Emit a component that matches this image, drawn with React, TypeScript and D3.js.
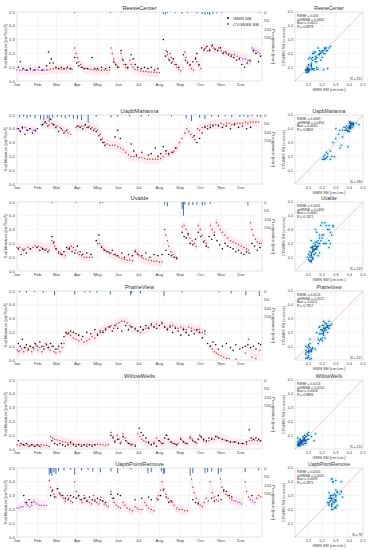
import React from "react";
import * as d3 from "d3";

const months = ["Jan", "Feb", "Mar", "Apr", "May", "Jun", "Jul", "Aug", "Sep", "Oct", "Nov", "Dec"];
const monthStart = [0, 31, 59, 90, 120, 151, 181, 212, 243, 273, 304, 334];
const smTicks = [0, 0.1, 0.2, 0.3, 0.4, 0.5];
const rainTicks = [0, 50, 100, 150];
const scatterTicks = [0.1, 0.2, 0.3, 0.4, 0.5];

const stationNames = ["ReeseCenter", "UapbMarianna", "Uvalde", "PrairieView", "WillowWells", "UapbPointRemove"];

// [day of year, SM]
const reeseCyg = [[0,0.08],[4,0.078],[8,0.08],[12,0.079],[16,0.077],[20,0.08],[24,0.078],[28,0.08],[32,0.079],[36,0.078],[40,0.08],[44,0.08],[46,0.082],[50,0.085],[54,0.088],[58,0.09],[62,0.088],[66,0.086],[70,0.085],[74,0.088],[78,0.087],[82,0.086],[86,0.24],[88,0.2],[90,0.17],[92,0.14],[95,0.12],[98,0.1],[102,0.09],[106,0.085],[110,0.085],[114,0.082],[118,0.08],[122,0.08],[126,0.08],[130,0.078],[134,0.078],[138,0.08],[140,0.24],[142,0.2],[144,0.16],[146,0.13],[149,0.11],[152,0.1],[155,0.2],[157,0.16],[159,0.12],[162,0.1],[165,0.09],[168,0.15],[170,0.12],[173,0.1],[176,0.085],[180,0.08],[184,0.072],[188,0.07],[192,0.068],[196,0.066],[200,0.065],[204,0.064],[208,0.063],[212,0.062],[222,0.22],[224,0.19],[226,0.16],[228,0.2],[230,0.17],[232,0.14],[235,0.12],[238,0.1],[241,0.085],[244,0.075],[250,0.21],[252,0.17],[254,0.14],[257,0.11],[260,0.09],[263,0.08],[266,0.17],[268,0.14],[271,0.11],[274,0.09],[278,0.22],[281,0.24],[284,0.22],[287,0.23],[290,0.25],[293,0.24],[296,0.23],[300,0.24],[304,0.22],[308,0.21],[312,0.2],[316,0.2],[320,0.19],[324,0.19],[328,0.18],[332,0.17],[336,0.16],[340,0.16],[344,0.15],[348,0.14],[350,0.24],[353,0.23],[356,0.22],[359,0.21],[362,0.2]];
const reeseIsmn = [[2,0.1],[5,0.14],[9,0.09],[14,0.08],[20,0.09],[26,0.08],[33,0.1],[38,0.08],[44,0.11],[47,0.21],[49,0.13],[51,0.16],[54,0.13],[58,0.1],[62,0.09],[66,0.1],[70,0.09],[75,0.1],[80,0.09],[86,0.17],[89,0.13],[92,0.11],[96,0.1],[100,0.09],[105,0.09],[112,0.17],[116,0.09],[120,0.09],[126,0.1],[132,0.09],[138,0.1],[144,0.14],[147,0.12],[150,0.1],[155,0.22],[158,0.15],[162,0.12],[165,0.1],[170,0.19],[173,0.16],[176,0.12],[180,0.1],[185,0.09],[190,0.1],[195,0.09],[200,0.1],[205,0.08],[210,0.09],[218,0.3],[221,0.18],[224,0.21],[227,0.15],[230,0.13],[233,0.16],[237,0.12],[241,0.1],[248,0.19],[251,0.15],[254,0.13],[258,0.12],[262,0.14],[266,0.16],[268,0.2],[271,0.12],[275,0.24],[279,0.23],[283,0.25],[287,0.22],[291,0.26],[295,0.23],[299,0.22],[303,0.24],[307,0.2],[311,0.21],[315,0.19],[319,0.18],[323,0.17],[327,0.15],[331,0.16],[335,0.12],[339,0.1],[343,0.13],[347,0.15],[352,0.22],[356,0.2],[360,0.14],[363,0.18]];
const reeseRain = [[86,8],[139,6],[155,4],[218,12],[221,15],[224,6],[236,5],[246,10],[254,6],[268,8],[276,12],[280,16],[284,10],[287,18],[292,10],[298,8],[305,6],[362,4]];
const reesePurple = [[0, 45], [330, 366]];

const mariCyg = [[0,0.4],[4,0.39],[8,0.4],[12,0.41],[16,0.39],[20,0.4],[24,0.39],[28,0.38],[36,0.43],[40,0.44],[44,0.44],[48,0.43],[52,0.44],[56,0.43],[60,0.42],[64,0.41],[68,0.39],[72,0.38],[76,0.37],[80,0.36],[88,0.41],[92,0.42],[96,0.42],[100,0.42],[104,0.41],[108,0.42],[112,0.41],[116,0.4],[120,0.39],[124,0.36],[127,0.33],[130,0.3],[134,0.29],[138,0.28],[142,0.28],[146,0.28],[150,0.27],[154,0.26],[158,0.25],[162,0.23],[166,0.21],[170,0.2],[174,0.2],[178,0.2],[182,0.19],[186,0.19],[190,0.185],[194,0.18],[198,0.18],[202,0.18],[206,0.18],[210,0.18],[214,0.185],[218,0.2],[222,0.22],[226,0.21],[230,0.23],[234,0.24],[238,0.26],[242,0.3],[246,0.33],[250,0.37],[253,0.4],[256,0.38],[259,0.36],[262,0.34],[265,0.32],[269,0.4],[272,0.39],[276,0.41],[280,0.42],[284,0.42],[288,0.43],[292,0.43],[296,0.43],[300,0.43],[304,0.44],[308,0.43],[312,0.44],[316,0.44],[320,0.43],[324,0.44],[328,0.44],[332,0.44],[336,0.44],[340,0.45],[344,0.44],[348,0.45],[352,0.45],[356,0.45],[360,0.45]];
const mariIsmn = [[2,0.4],[5,0.38],[8,0.41],[12,0.36],[15,0.39],[19,0.4],[23,0.37],[27,0.39],[30,0.4],[38,0.43],[42,0.45],[46,0.42],[50,0.47],[54,0.43],[58,0.41],[62,0.38],[66,0.4],[70,0.37],[74,0.39],[90,0.42],[94,0.41],[98,0.4],[102,0.43],[106,0.41],[110,0.4],[114,0.39],[118,0.38],[122,0.35],[125,0.32],[128,0.3],[131,0.28],[146,0.34],[150,0.39],[154,0.33],[170,0.29],[174,0.24],[178,0.21],[186,0.23],[196,0.21],[200,0.22],[206,0.26],[210,0.2],[214,0.22],[218,0.27],[222,0.24],[226,0.22],[232,0.23],[236,0.26],[264,0.35],[268,0.3],[272,0.33],[276,0.37],[280,0.41],[284,0.4],[288,0.41],[292,0.42],[300,0.42],[306,0.41],[312,0.42],[318,0.4],[324,0.43],[330,0.41],[336,0.42],[342,0.4],[348,0.41]];
const mariRain = [[4,15],[10,10],[15,20],[20,12],[27,18],[35,25],[40,30],[45,20],[48,40],[53,15],[60,10],[66,15],[72,20],[78,12],[84,20],[90,25],[96,30],[106,45],[118,10],[140,15],[150,10],[168,8],[185,10],[196,6],[230,8],[252,20],[260,35],[272,15],[280,25],[290,10],[300,12],[310,8],[320,15],[332,12],[338,10],[344,15],[350,8],[358,10],[363,12]];
const mariPurple = [[0, 30]];

const uvalCyg = [[0,0.17],[4,0.17],[8,0.16],[12,0.16],[16,0.17],[20,0.16],[24,0.17],[28,0.18],[32,0.18],[36,0.17],[40,0.16],[44,0.16],[48,0.15],[52,0.22],[54,0.2],[56,0.18],[59,0.16],[62,0.14],[65,0.13],[68,0.12],[72,0.11],[76,0.16],[78,0.17],[81,0.18],[84,0.17],[87,0.15],[90,0.13],[93,0.12],[96,0.11],[100,0.1],[104,0.1],[108,0.1],[112,0.1],[120,0.2],[123,0.2],[126,0.18],[129,0.16],[132,0.15],[136,0.14],[140,0.13],[144,0.12],[148,0.11],[152,0.1],[156,0.09],[160,0.085],[164,0.08],[168,0.08],[172,0.075],[176,0.15],[179,0.13],[182,0.11],[185,0.1],[188,0.09],[192,0.085],[196,0.08],[200,0.075],[204,0.07],[208,0.07],[212,0.065],[216,0.065],[220,0.3],[222,0.26],[224,0.22],[226,0.18],[229,0.14],[232,0.12],[235,0.1],[238,0.1],[246,0.32],[249,0.33],[252,0.3],[255,0.26],[258,0.24],[261,0.22],[264,0.2],[267,0.18],[270,0.33],[273,0.3],[276,0.26],[279,0.22],[282,0.2],[285,0.17],[288,0.33],[291,0.3],[294,0.28],[297,0.35],[300,0.33],[303,0.3],[306,0.28],[310,0.26],[314,0.24],[318,0.22],[322,0.21],[326,0.2],[330,0.19],[334,0.18],[338,0.17],[342,0.16],[345,0.15],[348,0.35],[350,0.3],[352,0.26],[355,0.23],[358,0.21],[361,0.2],[364,0.2]];
const uvalIsmn = [[2,0.16],[6,0.12],[10,0.15],[14,0.13],[20,0.16],[30,0.17],[34,0.15],[38,0.16],[42,0.15],[46,0.14],[52,0.25],[55,0.21],[58,0.16],[62,0.13],[66,0.12],[70,0.14],[74,0.17],[78,0.16],[82,0.14],[86,0.13],[90,0.18],[94,0.14],[98,0.12],[104,0.13],[110,0.12],[118,0.22],[122,0.26],[126,0.17],[130,0.15],[134,0.14],[138,0.13],[142,0.15],[146,0.12],[150,0.11],[156,0.13],[160,0.1],[166,0.12],[172,0.11],[176,0.14],[180,0.12],[186,0.11],[192,0.13],[198,0.1],[204,0.12],[210,0.11],[216,0.12],[222,0.15],[226,0.12],[230,0.11],[234,0.1],[238,0.09],[246,0.28],[249,0.25],[252,0.24],[255,0.27],[258,0.2],[262,0.19],[266,0.23],[270,0.28],[274,0.25],[278,0.21],[282,0.18],[286,0.25],[290,0.23],[294,0.26],[298,0.22],[302,0.19],[306,0.16],[310,0.2],[314,0.18],[318,0.17],[322,0.16],[326,0.14],[330,0.15],[334,0.13],[338,0.12],[342,0.14],[346,0.13],[350,0.2],[354,0.18],[358,0.15],[362,0.17]];
const uvalRain = [[52,8],[88,6],[124,10],[128,6],[220,15],[224,25],[246,40],[248,80],[250,15],[256,20],[262,18],[268,15],[276,20],[280,15],[288,10],[344,20]];
const uvalPurple: number[][] = [];

const prairCyg = [[0,0.07],[2,0.06],[4,0.065],[7,0.08],[10,0.06],[13,0.09],[16,0.07],[19,0.1],[22,0.06],[25,0.08],[28,0.11],[31,0.07],[34,0.09],[37,0.06],[40,0.1],[43,0.12],[46,0.09],[49,0.07],[52,0.1],[55,0.06],[58,0.05],[61,0.08],[64,0.06],[67,0.09],[70,0.12],[74,0.19],[77,0.2],[80,0.18],[84,0.16],[88,0.15],[92,0.14],[96,0.15],[100,0.13],[104,0.14],[108,0.15],[112,0.17],[116,0.16],[120,0.19],[124,0.2],[128,0.21],[132,0.23],[136,0.24],[140,0.25],[144,0.23],[148,0.26],[152,0.27],[156,0.28],[160,0.28],[164,0.27],[168,0.25],[172,0.24],[176,0.22],[180,0.21],[184,0.2],[188,0.22],[192,0.23],[196,0.24],[200,0.25],[204,0.24],[208,0.26],[212,0.25],[216,0.26],[220,0.24],[224,0.23],[228,0.25],[232,0.25],[236,0.24],[240,0.23],[244,0.24],[248,0.23],[252,0.22],[256,0.24],[260,0.23],[264,0.22],[268,0.21],[272,0.22],[276,0.2],[280,0.19],[288,0.1],[291,0.08],[294,0.06],[297,0.05],[300,0.04],[304,0.03],[308,0.02],[312,0.01],[316,0.01],[326,0.005],[340,0.05],[345,0.15],[350,0.02],[356,0.01],[362,0.07]];
const prairIsmn = [[2,0.12],[5,0.1],[8,0.15],[11,0.09],[14,0.11],[17,0.08],[20,0.1],[24,0.09],[27,0.12],[30,0.1],[34,0.13],[37,0.1],[40,0.08],[44,0.11],[47,0.09],[50,0.12],[54,0.1],[58,0.08],[62,0.1],[66,0.12],[70,0.17],[73,0.2],[76,0.19],[80,0.21],[84,0.2],[88,0.19],[92,0.18],[98,0.17],[104,0.2],[110,0.19],[116,0.22],[120,0.18],[124,0.21],[128,0.2],[132,0.22],[138,0.24],[142,0.21],[146,0.25],[150,0.23],[156,0.21],[162,0.25],[166,0.22],[170,0.24],[176,0.23],[180,0.21],[184,0.24],[188,0.22],[192,0.25],[196,0.23],[200,0.26],[204,0.24],[208,0.23],[212,0.25],[216,0.27],[220,0.24],[224,0.22],[228,0.24],[232,0.2],[236,0.23],[240,0.21],[244,0.18],[248,0.22],[252,0.2],[256,0.18],[260,0.21],[264,0.19],[268,0.22],[272,0.2],[276,0.16],[280,0.21],[284,0.12],[288,0.1],[292,0.13],[296,0.11],[300,0.08],[306,0.1],[312,0.12],[318,0.09],[322,0.07],[326,0.11],[332,0.08],[336,0.09],[340,0.1],[344,0.11],[348,0.09],[352,0.1],[356,0.08],[360,0.12],[363,0.11]];
const prairRain = [[4,8],[14,10],[26,6],[39,10],[56,25],[86,20],[101,8],[109,8],[119,10],[139,20],[169,25],[171,15],[184,15],[219,30],[246,8],[301,8],[319,15],[341,25],[361,30]];
const prairPurple = [[0, 5]];

const willCyg = [[0,0.03],[4,0.025],[8,0.03],[12,0.025],[16,0.03],[20,0.025],[24,0.03],[28,0.02],[32,0.025],[36,0.03],[40,0.025],[44,0.025],[48,0.02],[50,0.09],[53,0.08],[56,0.07],[60,0.065],[64,0.06],[68,0.055],[72,0.05],[76,0.045],[80,0.04],[84,0.04],[88,0.035],[92,0.035],[96,0.03],[100,0.03],[104,0.035],[108,0.03],[112,0.03],[116,0.03],[120,0.035],[124,0.03],[128,0.03],[132,0.025],[136,0.03],[140,0.12],[143,0.09],[146,0.06],[149,0.1],[152,0.07],[155,0.05],[158,0.11],[161,0.08],[164,0.05],[168,0.04],[172,0.035],[176,0.03],[180,0.11],[183,0.09],[186,0.07],[189,0.06],[192,0.05],[196,0.04],[200,0.035],[204,0.05],[208,0.08],[211,0.06],[214,0.05],[218,0.04],[222,0.1],[225,0.07],[228,0.05],[232,0.04],[236,0.035],[240,0.04],[244,0.08],[247,0.06],[250,0.045],[254,0.04],[258,0.09],[261,0.07],[264,0.05],[268,0.04],[272,0.1],[275,0.08],[278,0.06],[282,0.05],[286,0.06],[290,0.08],[294,0.07],[298,0.09],[302,0.08],[306,0.07],[310,0.065],[314,0.06],[318,0.055],[322,0.05],[326,0.05],[330,0.045],[334,0.04],[338,0.04],[342,0.035],[346,0.06],[350,0.06],[354,0.065],[358,0.06],[362,0.06]];
const willIsmn = [[2,0.06],[6,0.04],[10,0.03],[14,0.04],[18,0.02],[22,0.03],[26,0.02],[30,0.03],[34,0.02],[52,0.06],[56,0.04],[60,0.03],[64,0.04],[68,0.03],[72,0.02],[76,0.03],[80,0.05],[84,0.03],[88,0.02],[92,0.03],[96,0.02],[100,0.03],[104,0.02],[108,0.03],[112,0.02],[116,0.03],[140,0.1],[143,0.08],[146,0.05],[150,0.07],[154,0.04],[158,0.09],[162,0.06],[166,0.04],[170,0.03],[176,0.02],[182,0.15],[185,0.12],[188,0.1],[192,0.08],[196,0.05],[200,0.03],[204,0.04],[208,0.02],[212,0.06],[216,0.04],[220,0.08],[223,0.1],[226,0.07],[230,0.05],[234,0.04],[238,0.03],[244,0.07],[248,0.05],[252,0.04],[258,0.08],[262,0.06],[266,0.05],[270,0.07],[274,0.09],[278,0.07],[282,0.06],[286,0.08],[290,0.07],[296,0.09],[300,0.08],[306,0.07],[312,0.06],[318,0.05],[324,0.05],[330,0.04],[336,0.04],[342,0.05],[346,0.14],[349,0.08],[352,0.07],[356,0.08],[360,0.07],[363,0.06]];
const willRain: number[][] = [];
const willPurple: number[][] = [];

const pointCyg = [[0,0.21],[3,0.21],[6,0.22],[9,0.22],[12,0.25],[14,0.24],[16,0.23],[19,0.22],[22,0.23],[25,0.26],[27,0.25],[30,0.24],[33,0.23],[36,0.23],[40,0.23],[44,0.23],[48,0.41],[50,0.36],[52,0.33],[55,0.31],[58,0.29],[61,0.35],[63,0.32],[66,0.3],[69,0.28],[72,0.26],[75,0.3],[77,0.28],[80,0.26],[83,0.25],[86,0.4],[88,0.33],[91,0.29],[94,0.27],[97,0.25],[100,0.3],[102,0.28],[105,0.26],[108,0.25],[111,0.24],[114,0.3],[116,0.27],[119,0.25],[122,0.24],[125,0.29],[127,0.26],[130,0.24],[133,0.23],[136,0.22],[140,0.33],[142,0.28],[145,0.25],[148,0.23],[151,0.22],[154,0.21],[158,0.25],[161,0.23],[164,0.21],[168,0.2],[172,0.19],[176,0.22],[179,0.21],[182,0.2],[186,0.2],[190,0.25],[193,0.23],[196,0.21],[200,0.2],[204,0.19],[208,0.28],[211,0.3],[214,0.34],[216,0.4],[219,0.35],[222,0.31],[225,0.28],[228,0.26],[231,0.25],[234,0.23],[238,0.21],[242,0.2],[246,0.2],[250,0.19],[254,0.19],[260,0.42],[262,0.36],[264,0.32],[267,0.28],[270,0.25],[273,0.23],[276,0.22],[279,0.25],[282,0.28],[285,0.26],[288,0.4],[291,0.32],[294,0.29],[297,0.27],[300,0.26],[303,0.42],[305,0.36],[308,0.33],[311,0.31],[314,0.3],[317,0.28],[320,0.27],[323,0.26],[326,0.26],[329,0.25],[332,0.25],[335,0.24],[340,0.4],[342,0.33],[345,0.29],[348,0.27],[351,0.26],[354,0.25],[357,0.28],[360,0.3],[363,0.29]];
const pointIsmn = [[10,0.3],[14,0.25],[18,0.27],[22,0.25],[50,0.3],[53,0.34],[56,0.29],[60,0.35],[64,0.31],[68,0.3],[72,0.28],[76,0.27],[80,0.3],[84,0.29],[88,0.28],[92,0.3],[96,0.27],[100,0.28],[104,0.26],[108,0.29],[112,0.27],[116,0.26],[120,0.28],[124,0.27],[128,0.26],[132,0.25],[140,0.31],[144,0.28],[150,0.31],[154,0.3],[176,0.27],[186,0.28],[196,0.29],[200,0.27],[210,0.27],[214,0.3],[218,0.34],[222,0.29],[226,0.25],[230,0.26],[262,0.27],[266,0.25],[270,0.24],[290,0.28],[294,0.26],[300,0.3],[304,0.27],[308,0.34],[312,0.33],[316,0.3],[320,0.29],[350,0.3]];
const pointRain = [[48,40],[50,30],[52,45],[55,25],[58,35],[62,20],[70,15],[80,10],[86,40],[96,15],[106,10],[113,20],[124,25],[140,20],[150,30],[170,10],[195,30],[200,25],[215,20],[218,35],[220,30],[258,45],[262,30],[280,30],[284,25],[290,20],[300,35],[304,20],[340,25],[360,15]];
const pointPurple = [[0, 46], [318, 336], [346, 355]];

const statsText = [
  ["RMSE = 0.035", "ubRMSE = 0.0345", "Bias = 0.0022", "R = 0.8378"],
  ["RMSE = 0.0469", "ubRMSE = 0.0454", "Bias = 0.0094", "R = 0.8805"],
  ["RMSE = 0.0441", "ubRMSE = 0.0436", "Bias = 0.0062", "R = 0.7621"],
  ["RMSE = 0.0524", "ubRMSE = 0.0522", "Bias = 0.0101", "R = 0.7957"],
  ["RMSE = 0.0254", "ubRMSE = 0.0254", "Bias = 0.0008", "R = 0.8896"],
  ["RMSE = 0.0505", "ubRMSE = 0.0505", "Bias = 0.0098", "R = 0.2875"],
];
const nCounts = [251, 180, 213, 221, 215, 78];

const cygSets = [reeseCyg, mariCyg, uvalCyg, prairCyg, willCyg, pointCyg];
const ismnSets = [reeseIsmn, mariIsmn, uvalIsmn, prairIsmn, willIsmn, pointIsmn];
const rainSets = [reeseRain, mariRain, uvalRain, prairRain, willRain, pointRain];
const purpleSets = [reesePurple, mariPurple, uvalPurple, prairPurple, willPurple, pointPurple];

const rowTops = [12, 115, 202, 291, 380, 468];
const H = 69;
const LX0 = 17, LX1 = 262;
const SX0 = 295, SX1 = 363;
const FONT = "'Liberation Sans', Arial, sans-serif";

const CYG = "#b9472a";
const PURPLE = "#9257d6";
const RAIN = "#2f5fae";
const GRID = "#e8e8e8";
const TXT = "#444";

function segments(pts: number[][]) {
  const out: number[][][] = [];
  let cur: number[][] = [];
  pts.forEach((p, i) => {
    if (i > 0 && p[0] - pts[i - 1][0] > 6) {
      out.push(cur);
      cur = [];
    }
    cur.push(p);
  });
  if (cur.length) out.push(cur);
  return out;
}

function pairUp(ismn: number[][], cyg: number[][]) {
  const res: number[][] = [];
  ismn.forEach(([d, v]) => {
    const m = cyg.find((c) => Math.abs(c[0] - d) <= 2);
    if (m) res.push([v, m[1]]);
  });
  return res;
}

function Row({ idx }: { idx: number }) {
  const top = rowTops[idx];
  const bottom = top + H;
  const x = d3.scaleLinear().domain([0, 365]).range([LX0, LX1]);
  const y = d3.scaleLinear().domain([0, 0.5]).range([bottom, top]);
  const r = d3.scaleLinear().domain([0, 400]).range([top, bottom]);
  const cyg = cygSets[idx];
  const ismn = ismnSets[idx];
  const rain = rainSets[idx];
  const purple = purpleSets[idx];
  const band = d3
    .area<number[]>()
    .x((d) => x(d[0]))
    .y0((d) => y(Math.max(0, d[1] - 0.035)))
    .y1((d) => y(Math.min(0.5, d[1] + 0.035)));
  const isPurple = (d: number) => purple.some((s) => d >= s[0] && d <= s[1]);

  const sx = d3.scaleLinear().domain([0, 0.5]).range([SX0, SX1]);
  const sy = d3.scaleLinear().domain([0, 0.5]).range([bottom, top]);
  const pairs = pairUp(ismn, cyg);
  const midY = (top + bottom) / 2;

  return (
    <g>
      {/* time series panel */}
      <rect x={LX0} y={top} width={LX1 - LX0} height={H} fill="#fff" stroke="#ccc" strokeWidth={0.5} />
      {segments(cyg).map((s, i) => (
        <path key={"b" + i} d={band(s) || ""} fill="#fdeaf3" />
      ))}
      {monthStart.map((m) => (
        <line key={"gm" + m} x1={x(m)} x2={x(m)} y1={top} y2={bottom} stroke={GRID} strokeWidth={0.5} />
      ))}
      {smTicks.map((t) => (
        <line key={"gy" + t} x1={LX0} x2={LX1} y1={y(t)} y2={y(t)} stroke={GRID} strokeWidth={0.5} />
      ))}
      {rain.map(([d, v], i) => (
        <line key={"r" + i} x1={x(d)} x2={x(d)} y1={r(0)} y2={r(v)} stroke={RAIN} strokeWidth={0.9} />
      ))}
      {cyg.map(([d, v], i) => (
        <circle key={"c" + i} cx={x(d)} cy={y(v)} r={0.75} fill={isPurple(d) ? PURPLE : CYG} />
      ))}
      {ismn.map(([d, v], i) => (
        <circle key={"i" + i} cx={x(d)} cy={y(v)} r={0.8} fill="#111" />
      ))}
      {smTicks.map((t) => (
        <text key={"ly" + t} x={LX0 - 2} y={y(t) + 1.5} fontSize={4.3} textAnchor="end" fill={TXT}>
          {t.toFixed(1)}
        </text>
      ))}
      {rainTicks.map((t) => (
        <text key={"ry" + t} x={LX1 + 2} y={r(t) + 1.5} fontSize={4.3} fill={TXT}>
          {t}
        </text>
      ))}
      {months.map((m, i) => (
        <text key={m} x={x(monthStart[i])} y={bottom + 5} fontSize={4.3} textAnchor="middle" fill={TXT}>
          {m}
        </text>
      ))}
      <text x={(LX0 + LX1) / 2} y={top - 2} fontSize={5.8} textAnchor="middle" fill="#333">
        {stationNames[idx]}
      </text>
      <text transform={`translate(7,${midY}) rotate(-90)`} fontSize={4.3} textAnchor="middle" fill={TXT}>
        Soil Moisture [cm³/cm³]
      </text>
      <text transform={`translate(272,${midY}) rotate(90)`} fontSize={4.3} textAnchor="middle" fill={TXT}>
        Precipitation [mm]
      </text>
      {idx === 0 && (
        <g>
          <circle cx={228} cy={18} r={1} fill="#111" />
          <text x={233} y={19.5} fontSize={4.3} fill="#333">ISMN SM</text>
          <circle cx={228} cy={24} r={1} fill={CYG} />
          <text x={233} y={25.5} fontSize={4.3} fill="#333">CYGNSS SM</text>
        </g>
      )}

      {/* scatter panel */}
      <rect x={SX0} y={top} width={SX1 - SX0} height={H} fill="#fff" stroke="#ccc" strokeWidth={0.5} />
      {scatterTicks.map((t) => (
        <g key={"sg" + t}>
          <line x1={sx(t)} x2={sx(t)} y1={top} y2={bottom} stroke={GRID} strokeWidth={0.5} />
          <line x1={SX0} x2={SX1} y1={sy(t)} y2={sy(t)} stroke={GRID} strokeWidth={0.5} />
          <text x={sx(t)} y={bottom + 5} fontSize={3.8} textAnchor="middle" fill={TXT}>
            {t.toFixed(1)}
          </text>
          <text x={SX0 - 2} y={sy(t) + 1.3} fontSize={3.8} textAnchor="end" fill={TXT}>
            {t.toFixed(1)}
          </text>
        </g>
      ))}
      <line x1={sx(0)} y1={sy(0)} x2={sx(0.5)} y2={sy(0.5)} stroke="#f0a0a0" strokeWidth={0.6} />
      {pairs.map(([a, b], i) => (
        <circle key={"h" + i} cx={sx(a)} cy={sy(b)} r={2.2} fill="#bdf3f6" opacity={0.6} />
      ))}
      {pairs.map(([a, b], i) => (
        <circle key={"s" + i} cx={sx(a)} cy={sy(b)} r={0.75} fill="#2452a6" />
      ))}
      <text x={(SX0 + SX1) / 2} y={top - 2} fontSize={5} textAnchor="middle" fill="#333">
        {stationNames[idx]}
      </text>
      {statsText[idx].map((s, i) => (
        <text key={s} x={SX0 + 2} y={top + 5 + i * 3.6} fontSize={3.3} fill="#333">
          {s}
        </text>
      ))}
      <text x={SX1 - 1} y={bottom - 1.5} fontSize={3.3} textAnchor="end" fill="#333">
        N = {nCounts[idx]}
      </text>
      <text x={(SX0 + SX1) / 2} y={bottom + 10} fontSize={3.8} textAnchor="middle" fill={TXT}>
        ISMN SM [cm³/cm³]
      </text>
      <text transform={`translate(285,${midY}) rotate(-90)`} fontSize={3.8} textAnchor="middle" fill={TXT}>
        CYGNSS SM [cm³/cm³]
      </text>
    </g>
  );
}

export default function App() {
  return (
    <svg
      width={371}
      height={550}
      style={{ position: "absolute", left: 0, top: 0, background: "#fff", fontFamily: FONT }}
    >
      <rect width={371} height={550} fill="#fff" />
      {stationNames.map((n, i) => (
        <Row key={n} idx={i} />
      ))}
    </svg>
  );
}
